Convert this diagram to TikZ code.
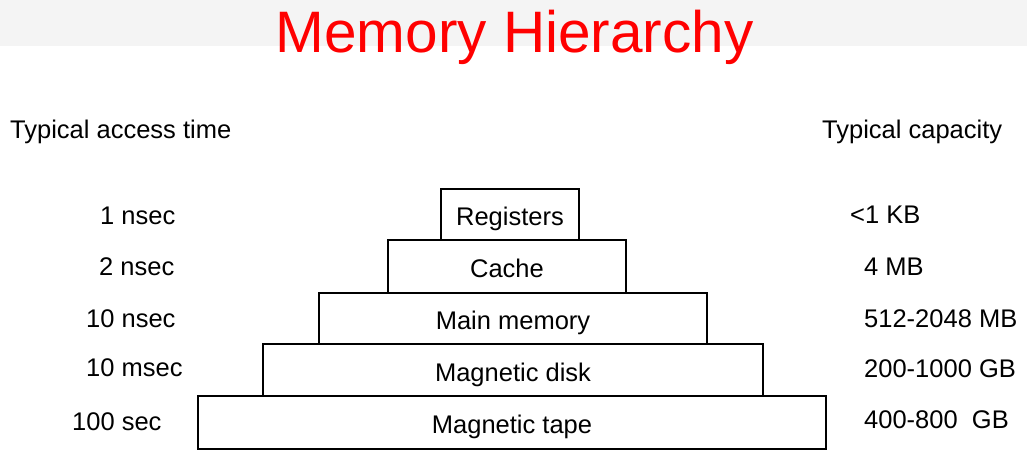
\documentclass[tikz,border=0pt]{standalone}
\usepackage{fontspec}
\setmainfont{Liberation Sans}
\definecolor{titlered}{HTML}{FF0000}
\definecolor{bandgray}{HTML}{F4F4F4}
\begin{document}
\begin{tikzpicture}[x=1pt,y=-1pt,
  level/.style={draw=black, line width=2.6pt, inner sep=0pt, text height=22pt, text depth=0pt, font=\fontsize{25.5}{28}\selectfont},
  lbl/.style={inner sep=0pt, anchor=base west, font=\fontsize{25.5}{28}\selectfont},
  ttl/.style={inner sep=0pt, anchor=base, text=titlered, font=\fontsize{58.5}{64}\selectfont}]
\useasboundingbox (0,0) rectangle (1027,462);
\fill[white] (0,0) rectangle (1027,462);
\fill[bandgray] (0,0) rectangle (1027,46);
\node[ttl] (title) at (514.5,53) {Memory Hierarchy};

\node[lbl] (lhead) at (10,139) {Typical access time};
\node[lbl] (rhead) at (822,139) {Typical capacity};

\node[level, minimum width=628pt, minimum height=53pt] (tape) at (512,422.5) {Magnetic tape};
\node[level, minimum width=500pt, minimum height=52pt] (disk) at (513,370) {Magnetic disk};
\node[level, minimum width=388pt, minimum height=51pt] (main) at (513,318.5) {Main memory};
\node[level, minimum width=238pt, minimum height=53pt] (cache) at (507,266.5) {Cache};
\node[level, minimum width=138pt, minimum height=51pt] (reg) at (510,214.5) {Registers};

\node[lbl] (t1) at (100,225) {1 nsec};
\node[lbl] (t2) at (99,276) {2 nsec};
\node[lbl] (t3) at (86,327) {10 nsec};
\node[lbl] (t4) at (86,376) {10 msec};
\node[lbl] (t5) at (72,430) {100 sec};

\node[lbl] (c1) at (850,224) {<1 KB};
\node[lbl] (c2) at (864,276) {4 MB};
\node[lbl] (c3) at (864,327) {512-2048 MB};
\node[lbl] (c4) at (864,377) {200-1000 GB};
\node[lbl] (c5) at (864,428) {400-800\ \ GB};
\end{tikzpicture}
\end{document}
